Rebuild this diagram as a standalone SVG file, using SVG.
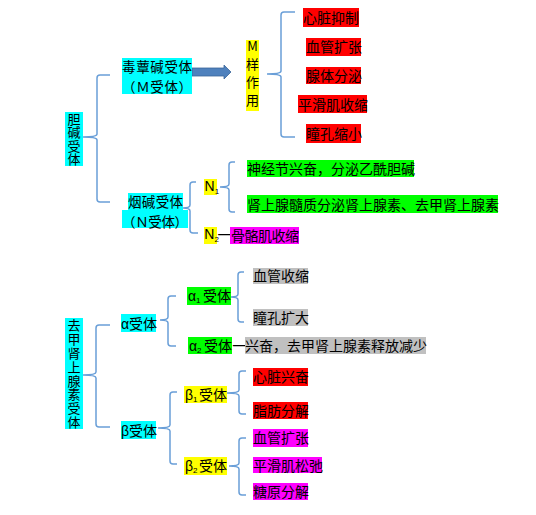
<svg xmlns="http://www.w3.org/2000/svg" width="536" height="515" viewBox="0 0 536 515">
<style>
text{font-family:"Noto Sans CJK SC","Noto Sans",sans-serif;font-size:14px;fill:#000}
.lat{font-family:"Liberation Sans","Noto Sans CJK SC",sans-serif}
.sub{font-size:8px}
.two{font-size:13.5px}
.vt{font-size:13px;writing-mode:vertical-rl;text-orientation:upright}
.br{fill:none;stroke:#6a9fd8;stroke-width:1.5}
.cy{fill:#00ffff}.ye{fill:#ffff00}.rd{fill:#ff0000}.gr{fill:#00ff00}.mg{fill:#ff00ff}.gy{fill:#c0c0c0}
</style>
<rect width="536" height="515" fill="#fff"/>
<g id="connectors">
<path class="br" d="M110,75 H100 Q97,75 97,78 V134 Q97,137 83,137 Q97,137 97,140 V199 Q97,202 100,202 H110"/>
<path class="br" d="M295,12 H284 Q281,12 281,15 V71 Q281,74 267,74 Q281,74 281,77 V134 Q281,137 284,137 H295"/>
<path class="br" d="M196,182 H193 Q190,182 190,185 V205 Q190,208 183,208 Q190,208 190,211 V230 Q190,233 193,233 H198"/>
<path class="br" d="M235,162 H232 Q229,162 229,165 V184 Q229,187 220,187 Q229,187 229,190 V209 Q229,212 232,212 H235"/>
<path class="br" d="M110,325 H99 Q96,325 96,328 V372 Q96,375 83,375 Q96,375 96,378 V424 Q96,427 99,427 H110"/>
<path class="br" d="M176,296 H171 Q168,296 168,299 V317 Q168,320 160,320 Q168,320 168,323 V343 Q168,346 171,346 H176"/>
<path class="br" d="M244,272 H241 Q238,272 238,275 V294 Q238,297 231,297 Q238,297 238,300 V319 Q238,322 241,322 H244"/>
<path class="br" d="M177,392 H173 Q170,392 170,395 V425 Q170,428 158,428 Q170,428 170,431 V461 Q170,464 173,464 H177"/>
<path class="br" d="M246,371 H242 Q239,371 239,374 V390 Q239,393 227,393 Q239,393 239,396 V411 Q239,414 242,414 H246"/>
<path class="br" d="M246,438 H242 Q239,438 239,441 V463 Q239,466 229,466 Q239,466 239,469 V492 Q239,495 242,495 H246"/>
<polygon points="192,68 224,68 224,65 231,72 224,79 224,76 192,76" fill="#4f81bd" stroke="#3a6699" stroke-width="0.8"/>
</g>
<g id="chol">
<rect class="cy" x="65" y="112" width="18" height="54"/>
<text class="vt" x="74" y="112.5" letter-spacing="0.5">胆碱受体</text>
</g>
<g id="m-rec">
<rect class="cy" x="122" y="58" width="70" height="36"/>
<text class="two" x="122" y="71.5" textLength="70">毒蕈碱受体</text>
<text class="two" x="122" y="91.5" textLength="70">（Ｍ受体）</text>
</g>
<g id="m-effect">
<rect class="ye" x="246" y="40" width="13" height="71"/>
<text class="vt" x="252.5" y="40" letter-spacing="5">M样作用</text>
</g>
<g id="m1"><rect class="rd" x="303" y="8" width="56" height="19"/><text x="303" y="23">心脏抑制</text></g>
<g id="m2"><rect class="rd" x="306" y="38" width="55" height="18"/><text x="306" y="52">血管扩张</text></g>
<g id="m3"><rect class="rd" x="306" y="67" width="55" height="17"/><text x="306" y="81">腺体分泌</text></g>
<g id="m4"><rect class="rd" x="298" y="95" width="69" height="18"/><text x="298" y="109.5">平滑肌收缩</text></g>
<g id="m5"><rect class="rd" x="306" y="124" width="55" height="19"/><text x="306" y="139">瞳孔缩小</text></g>
<g id="n-rec">
<rect class="cy" x="128" y="193" width="55" height="17"/>
<rect class="cy" x="122" y="210" width="66" height="18"/>
<text class="two" x="128" y="206.5" textLength="55">烟碱受体</text>
<text class="two" x="122" y="226.5" textLength="66">（Ｎ受体）</text>
</g>
<g id="n1">
<rect class="ye" x="204" y="179" width="13" height="16"/>
<text x="204.5" y="191" class="lat" font-size="11">N<tspan class="sub" dy="3">1</tspan></text>
</g>
<g id="n1a"><rect class="gr" x="247" y="160" width="167" height="17"/><text x="247" y="174">神经节兴奋，分泌乙酰胆碱</text></g>
<g id="n1b"><rect class="gr" x="247" y="195" width="251" height="18"/><text x="247" y="209.5">肾上腺髓质分泌肾上腺素、去甲肾上腺素</text></g>
<g id="n2">
<rect class="ye" x="204" y="227" width="13" height="17"/>
<text x="204.3" y="239" class="lat" font-size="10.5">N<tspan class="sub" dy="3">2</tspan></text>
<text x="217.6" y="240" font-size="11">一</text>
</g>
<g id="n2a"><rect class="mg" x="230" y="227" width="69" height="17"/><text x="231" y="241" textLength="68">骨骼肌收缩</text></g>
<g id="nor">
<rect class="cy" x="65" y="318" width="18" height="111"/>
<text class="vt" x="74" y="318.5" letter-spacing="0.9">去甲肾上腺素受体</text>
</g>
<g id="alpha"><rect class="cy" x="121" y="314" width="35" height="18"/><text x="121" y="328.5"><tspan class="lat">α</tspan>受体</text></g>
<g id="alpha1">
<rect class="gr" x="187" y="287" width="44" height="18"/>
<text x="188" y="301" class="lat">α<tspan class="sub" dy="2">1</tspan></text>
<text x="203" y="301">受体</text>
</g>
<g id="a1a"><rect class="gy" x="253" y="268" width="55" height="16"/><text x="253" y="281">血管收缩</text></g>
<g id="a1b"><rect class="gy" x="253" y="309" width="55" height="17"/><text x="253" y="323">瞳孔扩大</text></g>
<g id="alpha2">
<rect class="gr" x="188" y="337" width="44" height="17"/>
<text x="189" y="351" class="lat">α<tspan class="sub" dy="2">2</tspan></text>
<text x="204" y="351">受体</text>
<text x="232.3" y="350.5" font-size="12">一</text>
</g>
<g id="a2a"><rect class="gy" x="245" y="337" width="181" height="17"/><text x="245" y="351">兴奋，去甲肾上腺素释放减少</text></g>
<g id="beta"><rect class="cy" x="121" y="421" width="35" height="18"/><text x="121" y="435.5"><tspan class="lat">β</tspan>受体</text></g>
<g id="beta1">
<rect class="ye" x="184" y="386" width="43" height="17"/>
<text x="185" y="400" class="lat">β<tspan class="sub" dy="2">1</tspan></text>
<text x="199" y="400">受体</text>
</g>
<g id="b1a"><rect class="rd" x="253" y="368" width="55" height="18"/><text x="253" y="382">心脏兴奋</text></g>
<g id="b1b"><rect class="rd" x="253" y="402" width="55" height="17"/><text x="253" y="416">脂肪分解</text></g>
<g id="beta2">
<rect class="ye" x="184" y="457" width="43" height="18"/>
<text x="185" y="471" class="lat">β<tspan class="sub" dy="2">2</tspan></text>
<text x="199" y="471">受体</text>
</g>
<g id="b2a"><rect class="mg" x="253" y="429" width="55" height="18"/><text x="253" y="443">血管扩张</text></g>
<g id="b2b"><rect class="mg" x="253" y="457" width="69" height="16"/><text x="253" y="470.5">平滑肌松弛</text></g>
<g id="b2c"><rect class="mg" x="253" y="483" width="55" height="17"/><text x="253" y="497">糖原分解</text></g>
</svg>
